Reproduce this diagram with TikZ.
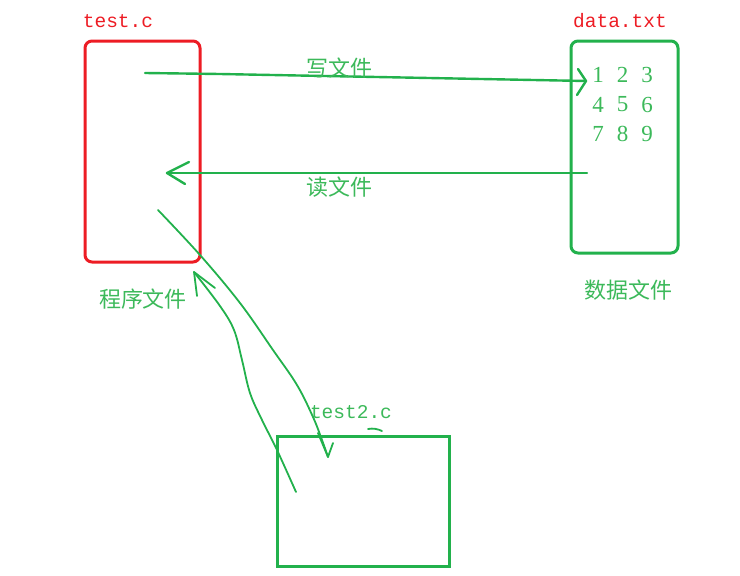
\documentclass[tikz,border=0pt]{standalone}
\usepackage{fontspec}
\setmonofont{Liberation Mono}
\newfontfamily\cjk{Noto Sans CJK SC}
\newfontfamily\numfont{Liberation Serif}
\usetikzlibrary{arrows.meta}
\definecolor{pgreen}{RGB}{34,177,76}
\definecolor{tgreen}{RGB}{60,185,90}
\definecolor{pred}{RGB}{237,28,36}
\tikzset{
  redbox/.style={draw=pred, line width=3pt, rounded corners=7pt, inner sep=0pt},
  greenbox/.style={draw=pgreen, line width=3pt, rounded corners=7pt, inner sep=0pt},
  plainbox/.style={draw=pgreen, line width=3pt, inner sep=0pt},
  fname/.style={text=pred, font=\ttfamily\fontsize{19.5}{19.5}\selectfont, inner sep=0pt},
  gname/.style={text=tgreen, font=\ttfamily\fontsize{19.5}{19.5}\selectfont, inner sep=0pt},
  cjklabel/.style={text=tgreen, font=\cjk\fontsize{22}{22}\selectfont, inner sep=0pt},
  digit/.style={text=tgreen, font=\numfont\fontsize{23}{23}\selectfont, inner sep=0pt},
  stroke/.style={draw=pgreen, line width=2.4pt, line cap=round, line join=round},
  thinstroke/.style={draw=pgreen, line width=1.8pt, line cap=round, line join=round}
}
\begin{document}
\begin{tikzpicture}[x=1pt,y=-1pt]
\useasboundingbox (0,0) rectangle (740,576);
% boxes
\node[redbox, minimum width=115pt, minimum height=221pt] (prog) at (142.5,151.5) {};
\node[greenbox, minimum width=107pt, minimum height=212pt] (data) at (624.5,147) {};
\node[plainbox, minimum width=172pt, minimum height=130pt] (t2) at (363,501) {};
% titles
\node[fname] (progname) at (118,21) {test.c};
\node[fname] (dataname) at (620,21) {data.txt};
\node[gname] (t2name) at (351,412) {test2.c};
\node[cjklabel] (proglabel) at (143,299) {程序文件};
\node[cjklabel] (datalabel) at (628,290) {数据文件};
% digits
\foreach \r/\a/\b/\c in {0/1/2/3,1/4/5/6,2/7/8/9}{
  \node[digit] (d\a) at (598,75+29.5*\r) {\a};
  \node[digit] (d\b) at (622.5,75+29.5*\r) {\b};
  \node[digit] (d\c) at (647,75+29.5*\r) {\c};
}
% write arrow
\coordinate (ws) at (145,73);
\coordinate (we) at (586,81);
\draw[stroke] (ws) -- (220,74) -- (we);
\draw[stroke] (578,69) -- (we) -- (577,95);
\node[cjklabel] (wlabel) at (339,68) {写文件};
% read arrow
\coordinate (rs) at (587,173);
\coordinate (re) at (167,173);
\draw[stroke] (rs) -- (re);
\draw[stroke] (189,162) -- (re) -- (185,184);
\node[cjklabel] (rlabel) at (339,187) {读文件};
% curve from program down to test2
\coordinate (c1s) at (158,210);
\coordinate (c1e) at (328,457);
\draw[thinstroke] plot[smooth, tension=0.6] coordinates {(c1s) (200,255) (240,303) (273,350) (297,385) (313,417) (322,440) (c1e)};
\draw[thinstroke] (318,433) -- (c1e) -- (333,443);
% curve from test2 up to program
\coordinate (c2s) at (296,492);
\coordinate (c2e) at (194,272);
\draw[thinstroke] plot[smooth, tension=0.6] coordinates {(c2s) (277,450) (262,420) (250,393) (242,360) (234,330) (220,306) (c2e)};
\draw[thinstroke] (197,296) -- (c2e) -- (215,288);
% small tilde under .c
\draw[thinstroke] (368,429) .. controls (373,428) and (378,429) .. (382,431);
\end{tikzpicture}
\end{document}
